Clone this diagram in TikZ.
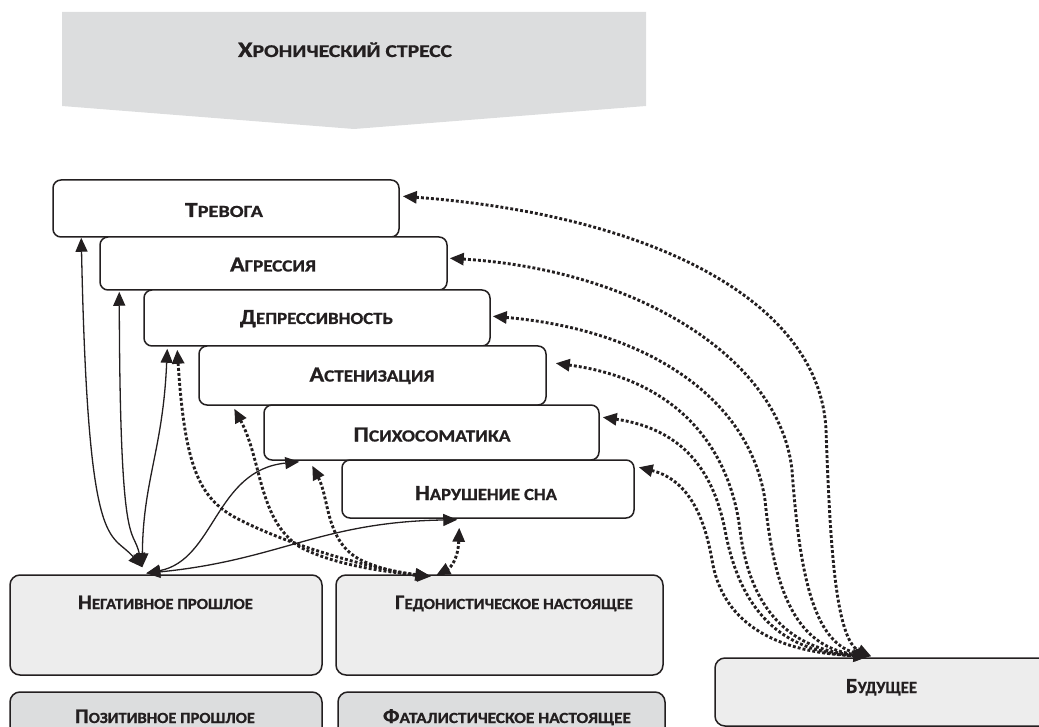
\documentclass[tikz,border=0pt]{standalone}
\usepackage{fontspec}
\usepackage{graphicx}
\setmainfont{Carlito}[BoldFeatures={FakeBold=0.8}]
\usetikzlibrary{arrows.meta,calc}
\definecolor{ink}{HTML}{231F20}
\definecolor{lightg}{HTML}{EDEDED}
\definecolor{darkg}{HTML}{DCDDDE}
% width, big size, small size, first letter, rest
\newcommand{\lab}[5]{\resizebox{#1pt}{\height}{{\fontsize{#2pt}{#2pt}\selectfont #4}{\fontsize{#3pt}{#3pt}\selectfont #5}}}
\tikzset{
  topbox/.style={draw=ink, line width=1.5pt, fill=white, rounded corners=8pt, inner sep=0pt},
  lowbox/.style={draw=ink, line width=1.5pt, rounded corners=10pt, inner sep=0pt},
  txt/.style={anchor=base, inner sep=0pt, font=\bfseries, text=ink},
  tip/.tip={Triangle[length=14pt,width=12pt]},
  solidarr/.style={draw=ink, line width=1.3pt, tip-tip},
  dotarr/.style={draw=ink, line width=2.9pt, dash pattern=on 2.9pt off 2.1pt, tip-tip},
}
\begin{document}
\begin{tikzpicture}[x=1pt,y=-1pt]
\useasboundingbox (0,0) rectangle (1039,727);
\clip (0,0) rectangle (1039,727);
% banner
\fill[darkg] (62,12) -- (646,12) -- (646,106) -- (354,129) -- (62,106) -- cycle;
\node[txt] (stress) at (345,57) {\lab{214}{22}{18}{Х}{РОНИЧЕСКИЙ СТРЕСС}};
% stacked boxes
\node[topbox, minimum width=346pt, minimum height=57pt] (trev) at (226,208.5) {};
\node[txt] (trevT) at (224,217) {\lab{78}{21.5}{17}{Т}{РЕВОГА}};
\node[topbox, minimum width=347pt, minimum height=53pt] (aggr) at (273.5,263.5) {};
\node[txt] (aggrT) at (273,271.5) {\lab{86}{21.5}{17}{А}{ГРЕССИЯ}};
\node[topbox, minimum width=346pt, minimum height=56pt] (depr) at (317,318) {};
\node[txt] (deprT) at (316.5,324) {\lab{153}{21.5}{17}{Д}{ЕПРЕССИВНОСТЬ}};
\node[topbox, minimum width=347pt, minimum height=59pt] (aste) at (372.5,375.5) {};
\node[txt] (asteT) at (372,381.5) {\lab{125}{21.5}{17}{А}{СТЕНИЗАЦИЯ}};
\node[topbox, minimum width=335pt, minimum height=55pt] (psy) at (431.5,432.5) {};
\node[txt] (psyT) at (432,441.5) {\lab{157}{21.5}{17}{П}{СИХОСОМАТИКА}};
\node[topbox, minimum width=292pt, minimum height=58pt] (sleep) at (488,489) {};
\node[txt] (sleepT) at (486,500) {\lab{142}{21.5}{17}{Н}{АРУШЕНИЕ СНА}};
% lower boxes
\node[lowbox, fill=lightg, minimum width=312pt, minimum height=100pt] (neg) at (166,625) {};
\node[txt] (negT) at (165.5,609) {\lab{175}{20.5}{15.5}{Н}{ЕГАТИВНОЕ ПРОШЛОЕ}};
\node[lowbox, fill=lightg, minimum width=327pt, minimum height=100pt] (hed) at (499.5,625) {};
\node[txt] (hedT) at (514,609) {\lab{238}{20.5}{15.5}{Г}{ЕДОНИСТИЧЕСКОЕ НАСТОЯЩЕЕ}};
\node[lowbox, fill=darkg, minimum width=312pt, minimum height=100pt] (pos) at (166,742) {};
\node[txt] (posT) at (165,723) {\lab{180}{20.5}{15.5}{П}{ОЗИТИВНОЕ ПРОШЛОЕ}};
\node[lowbox, fill=darkg, minimum width=327pt, minimum height=100pt] (fat) at (501.5,742) {};
\node[txt] (fatT) at (507,723) {\lab{248}{20.5}{15.5}{Ф}{АТАЛИСТИЧЕСКОЕ НАСТОЯЩЕЕ}};
\node[lowbox, fill=lightg, minimum width=340pt, minimum height=68pt] (fut) at (885,692) {};
\node[txt] (futT) at (881.5,693) {\lab{71}{21.5}{17}{Б}{УДУЩЕЕ}};
% solid connectors from negative past
\draw[solidarr] ($(neg.north west)+(133,-7)$) .. controls (110,530) and (88,560) .. ($(trev.south west)+(29,0)$);
\draw[solidarr] ($(neg.north west)+(133,-7)$) .. controls (133,525) and (120,560) .. ($(aggr.south west)+(20,1)$);
\draw[solidarr] ($(neg.north west)+(133,-7)$) .. controls (143,480) and (163,450) .. ($(depr.south west)+(24,2)$);
\draw[solidarr] ($(neg.north west)+(137,-1)$) .. controls (215,560) and (215,470) .. ($(psy.south west)+(36,1)$);
\draw[solidarr] ($(neg.north west)+(137,-1)$) .. controls (280,560) and (320,522) .. ($(sleep.south west)+(116,1)$);
% dotted connectors to hedonistic present
\draw[dotarr] ($(depr.south west)+(34,3)$) .. controls (185,470) and (200,500) .. (240,520) .. controls (300,550) and (380,570) .. ($(hed.north west)+(94,2)$);
\draw[dotarr] ($(aste.south west)+(36,3)$) .. controls (262,460) and (258,520) .. (300,547) .. controls (340,568) and (400,573) .. ($(hed.north west)+(95,2)$);
\draw[dotarr] ($(psy.south west)+(49,5)$) .. controls (330,500) and (325,545) .. (365,562) .. controls (390,572) and (410,575) .. ($(hed.north west)+(96,2)$);
\draw[dotarr] ($(sleep.south west)+(118,9)$) .. controls (458,560) and (450,568) .. ($(hed.north west)+(101,1)$);
% dotted connectors to future
\draw[dotarr] ($(trev.north east)+(3,17)$) .. controls (650,215) and (820,300) .. (826,430) .. controls (830,540) and (835,640) .. ($(fut.north west)+(157,-1)$);
\draw[dotarr] ($(aggr.north east)+(2,22)$) .. controls (640,270) and (780,360) .. (792,470) .. controls (800,580) and (815,645) .. ($(fut.north west)+(157,-1)$);
\draw[dotarr] ($(depr.north east)+(2,27)$) .. controls (650,330) and (750,400) .. (765,500) .. controls (775,600) and (800,648) .. ($(fut.north west)+(155,-1)$);
\draw[dotarr] ($(aste.north east)+(9,18)$) .. controls (680,380) and (730,450) .. (740,530) .. controls (750,610) and (790,650) .. ($(fut.north west)+(155,-1)$);
\draw[dotarr] ($(psy.north east)+(3,13)$) .. controls (690,430) and (715,480) .. (725,530) .. controls (740,610) and (780,652) .. ($(fut.north west)+(153,-1)$);
\draw[dotarr] ($(sleep.north east)+(4,8)$) .. controls (690,480) and (705,520) .. (712,560) .. controls (722,620) and (770,652) .. ($(fut.north west)+(153,-1)$);
\end{tikzpicture}
\end{document}
